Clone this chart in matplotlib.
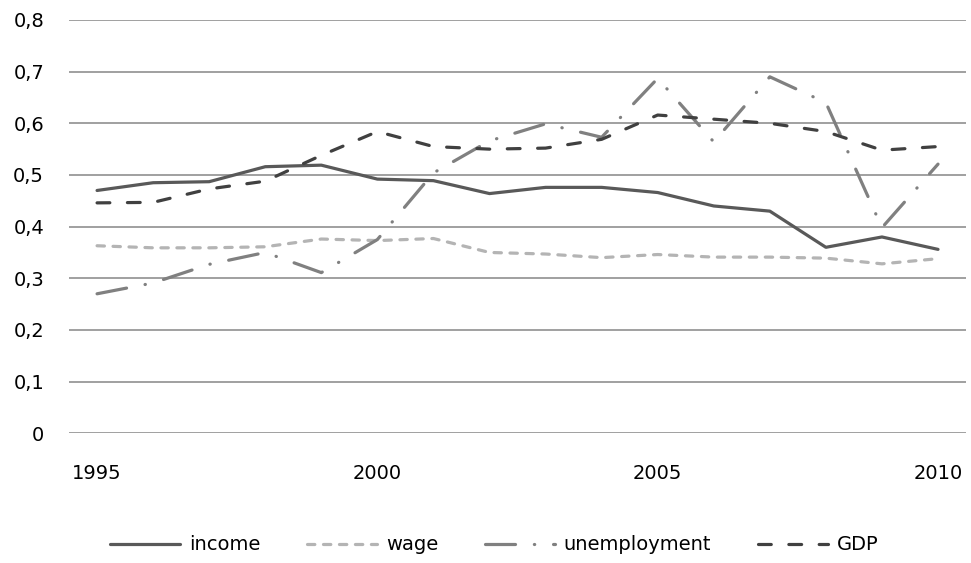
import matplotlib.pyplot as plt

# data
years = list(range(1995, 2011))
income = [0.470, 0.485, 0.487, 0.516, 0.519, 0.492, 0.489, 0.464,
          0.476, 0.476, 0.466, 0.440, 0.430, 0.360, 0.380, 0.356]
wage = [0.363, 0.359, 0.359, 0.361, 0.376, 0.373, 0.377, 0.350,
        0.347, 0.340, 0.346, 0.341, 0.341, 0.339, 0.328, 0.338]
unemployment = [0.270, 0.291, 0.327, 0.350, 0.311, 0.375, 0.504, 0.566,
                0.599, 0.573, 0.687, 0.564, 0.690, 0.640, 0.398, 0.521]
gdp = [0.446, 0.447, 0.473, 0.488, 0.538, 0.584, 0.555, 0.550,
       0.552, 0.569, 0.616, 0.608, 0.600, 0.584, 0.548, 0.555]
y_ticks = [0, 0.1, 0.2, 0.3, 0.4, 0.5, 0.6, 0.7, 0.8]
y_labels = ['0', '0,1', '0,2', '0,3', '0,4', '0,5', '0,6', '0,7', '0,8']
x_labels = ['1995', '2000', '2005', '2010']

plt.rcParams['font.family'] = ['DejaVu Sans']

fig = plt.figure(figsize=(9.71, 5.63), dpi=100)
ax = fig.add_axes([0.0711, 0.2304, 0.9238, 0.7341])

x = list(range(len(years)))
ax.plot(x, income, color='#595959', lw=2.3, solid_capstyle='round', label='income')
ax.plot(x, wage, color='#b4b4b4', lw=2.3, dashes=(2.3, 2.7), dash_capstyle='round', label='wage')
ax.plot(x, unemployment, color='#808080', lw=2.3, dashes=(9.4, 5.9, 0.1, 5.9),
        dash_capstyle='round', label='unemployment')
ax.plot(x, gdp, color='#404040', lw=2.3, dashes=(4, 5.5), dash_capstyle='round', label='GDP')

ax.set_xlim(-0.5, len(years) - 0.5)
ax.set_ylim(0, 0.8)
ax.set_yticks(y_ticks)
ax.set_yticklabels(y_labels)
ax.set_xticks([years.index(int(t)) for t in x_labels])
ax.set_xticklabels(x_labels)
ax.tick_params(length=0, labelsize=14, colors='#000000')
ax.tick_params(axis='y', pad=18)
ax.tick_params(axis='x', pad=22)
ax.grid(axis='y', color='#868686', lw=1.1)
ax.set_axisbelow(True)
for s in ax.spines.values():
    s.set_visible(False)

fig.legend(loc='center', bbox_to_anchor=(0.509, 0.032), ncol=4, frameon=False,
           fontsize=14, handlelength=3.6, columnspacing=2.4, handletextpad=0.45)

fig.savefig('out.png', dpi=100)
